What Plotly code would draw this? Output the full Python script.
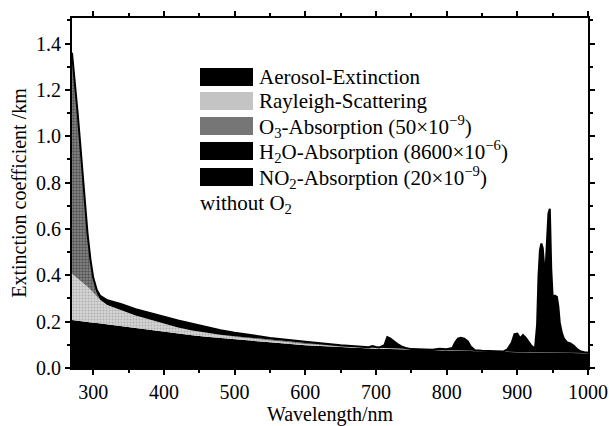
import plotly.graph_objects as go

# Wavelength grid for smooth components (nm)
wl_main = [270, 272, 275, 278, 281, 284, 288, 292, 296, 300, 305, 310, 320, 340, 360, 380,
           400, 420, 440, 460, 480, 500, 550, 600, 650, 700, 750, 800, 850, 900, 950, 1000]
aerosol = [0.207, 0.206, 0.205, 0.204, 0.203, 0.202, 0.201, 0.199, 0.197, 0.195, 0.194,
           0.192, 0.188, 0.180, 0.172, 0.164, 0.155, 0.148, 0.141, 0.135, 0.129, 0.124,
           0.111, 0.098, 0.089, 0.083, 0.079, 0.075, 0.069, 0.067, 0.066, 0.064]
rayleigh = [0.200, 0.195, 0.190, 0.182, 0.176, 0.170, 0.160, 0.152, 0.142, 0.130, 0.115,
            0.100, 0.084, 0.070, 0.055, 0.045, 0.036, 0.027, 0.021, 0.016, 0.013, 0.011,
            0.008, 0.006, 0.004, 0.003, 0.0025, 0.0019, 0.0015, 0.0012, 0.0010, 0.0008]
ozone = [0.941, 0.887, 0.793, 0.702, 0.598, 0.485, 0.346, 0.215, 0.117, 0.050, 0.012,
         0.002, 0.0, 0.0, 0.0, 0.0, 0.0, 0.0, 0.0, 0.0, 0.001, 0.002,
         0.003, 0.004, 0.002, 0.001, 0.0, 0.0, 0.0, 0.0, 0.0, 0.0]
no2 = [0.012, 0.012, 0.012, 0.012, 0.013, 0.013, 0.013, 0.014, 0.014, 0.015, 0.016,
       0.017, 0.020, 0.025, 0.027, 0.028, 0.030, 0.030, 0.029, 0.025, 0.020, 0.015,
       0.008, 0.005, 0.003, 0.001, 0.0, 0.0, 0.0, 0.0, 0.0, 0.0]

# Water vapour bands (nm)
wl_h2o = [270, 690, 695, 700, 705, 712, 716, 720, 724, 730, 736, 742, 750, 780, 790, 800,
          808, 812, 816, 820, 825, 830, 834, 840, 880, 886, 892, 896, 900, 904, 908, 912,
          916, 920, 925, 928, 930, 932, 934, 936, 938, 940, 942, 944, 946, 948, 950, 953,
          956, 958, 960, 963, 966, 970, 975, 980, 985, 990, 995, 1000]
h2o = [0.0, 0.0, 0.006, 0.003, 0.001, 0.012, 0.047, 0.042, 0.032, 0.020, 0.010, 0.004,
       0.0, 0.0, 0.005, 0.004, 0.010, 0.035, 0.052, 0.056, 0.053, 0.042, 0.020, 0.005,
       0.002, 0.012, 0.040, 0.078, 0.080, 0.060, 0.074, 0.062, 0.045, 0.028, 0.016,
       0.120, 0.330, 0.440, 0.470, 0.450, 0.370, 0.360, 0.480, 0.600, 0.620, 0.360,
       0.240, 0.245, 0.240, 0.200, 0.130, 0.085, 0.060, 0.045, 0.040, 0.030, 0.015,
       0.006, 0.003, 0.002]

names = ["Aerosol-Extinction",
         "Rayleigh-Scattering",
         "O<sub>3</sub>-Absorption (50×10<sup>−9</sup>)",
         "H<sub>2</sub>O-Absorption (8600×10<sup>−6</sup>)",
         "NO<sub>2</sub>-Absorption (20×10<sup>−9</sup>)"]
note = "without O<sub>2</sub>"

FONT = "Liberation Serif, Times New Roman, serif"

colors = ["#000000", "#c4c4c4", "#767676", "#000000", "#000000"]
patterns = [None,
            dict(shape=".", fgcolor="#8a8a8a", bgcolor="#d4d4d4", size=3, solidity=0.35),
            dict(shape=".", fgcolor="#1e1e1e", bgcolor="#8a8a8a", size=3, solidity=0.5),
            None, None]
xs = [wl_main, wl_main, wl_main, wl_h2o, wl_main]
ys = [aerosol, rayleigh, ozone, h2o, no2]

fig = go.Figure()
for i in range(5):
    kw = dict(x=xs[i], y=ys[i], name=names[i], mode="lines", stackgroup="one",
              line=dict(width=0, color=colors[i]), fillcolor=colors[i], showlegend=False)
    if patterns[i]:
        kw["fillpattern"] = patterns[i]
    fig.add_trace(go.Scatter(**kw))
fig.data[0].update(stackgaps="interpolate")
fig.data[4].update(line=dict(width=2, color="black"))

# Legend drawn as boxes + text (plot area: x 72..588 px, y 18..368 px)
PL, PW, PB, PH = 72, 516, 368, 350
def px(v): return (v - PL) / PW
def py(v): return (PB - v) / PH
row_y = [77, 101, 126, 151, 177]
shapes, annots = [], []
for i, yc in enumerate(row_y):
    shapes.append(dict(type="rect", xref="paper", yref="paper",
                       x0=px(200), x1=px(253), y0=py(yc + 9), y1=py(yc - 9),
                       fillcolor=colors[i], line=dict(width=0)))
    annots.append(dict(text=names[i], x=px(257), y=py(yc), xref="paper", yref="paper",
                       xanchor="left", yanchor="middle", showarrow=False,
                       font=dict(family=FONT, size=21, color="black")))
annots.append(dict(text=note, x=px(198), y=py(204), xref="paper", yref="paper",
                   xanchor="left", yanchor="middle", showarrow=False,
                   font=dict(family=FONT, size=21, color="black")))

axis_common = dict(showline=True, linecolor="black", linewidth=2, mirror="ticks",
                   ticks="outside", ticklen=5, tickwidth=1.5, tickcolor="black",
                   showgrid=False, zeroline=False, automargin=False,
                   tickfont=dict(family=FONT, size=20, color="black"))

fig.update_layout(
    width=609, height=426,
    margin=dict(l=72, r=21, t=18, b=58),
    paper_bgcolor="white", plot_bgcolor="white",
    font=dict(family=FONT, color="black"),
    showlegend=False,
    shapes=shapes,
    annotations=annots,
)
fig.update_xaxes(range=[270, 1000], dtick=100, tick0=300,
                 minor=dict(dtick=50, ticklen=3, tickcolor="black", ticks="outside"),
                 title=dict(text="Wavelength/nm", font=dict(family=FONT, size=20), standoff=4),
                 **axis_common)
fig.update_yaxes(range=[0, 1.51], dtick=0.2, tickformat=".1f",
                 minor=dict(dtick=0.1, ticklen=3, tickcolor="black", ticks="outside"),
                 title=dict(text="Extinction coefficient /km", font=dict(family=FONT, size=20), standoff=4),
                 **axis_common)

fig.write_html("out.html")
